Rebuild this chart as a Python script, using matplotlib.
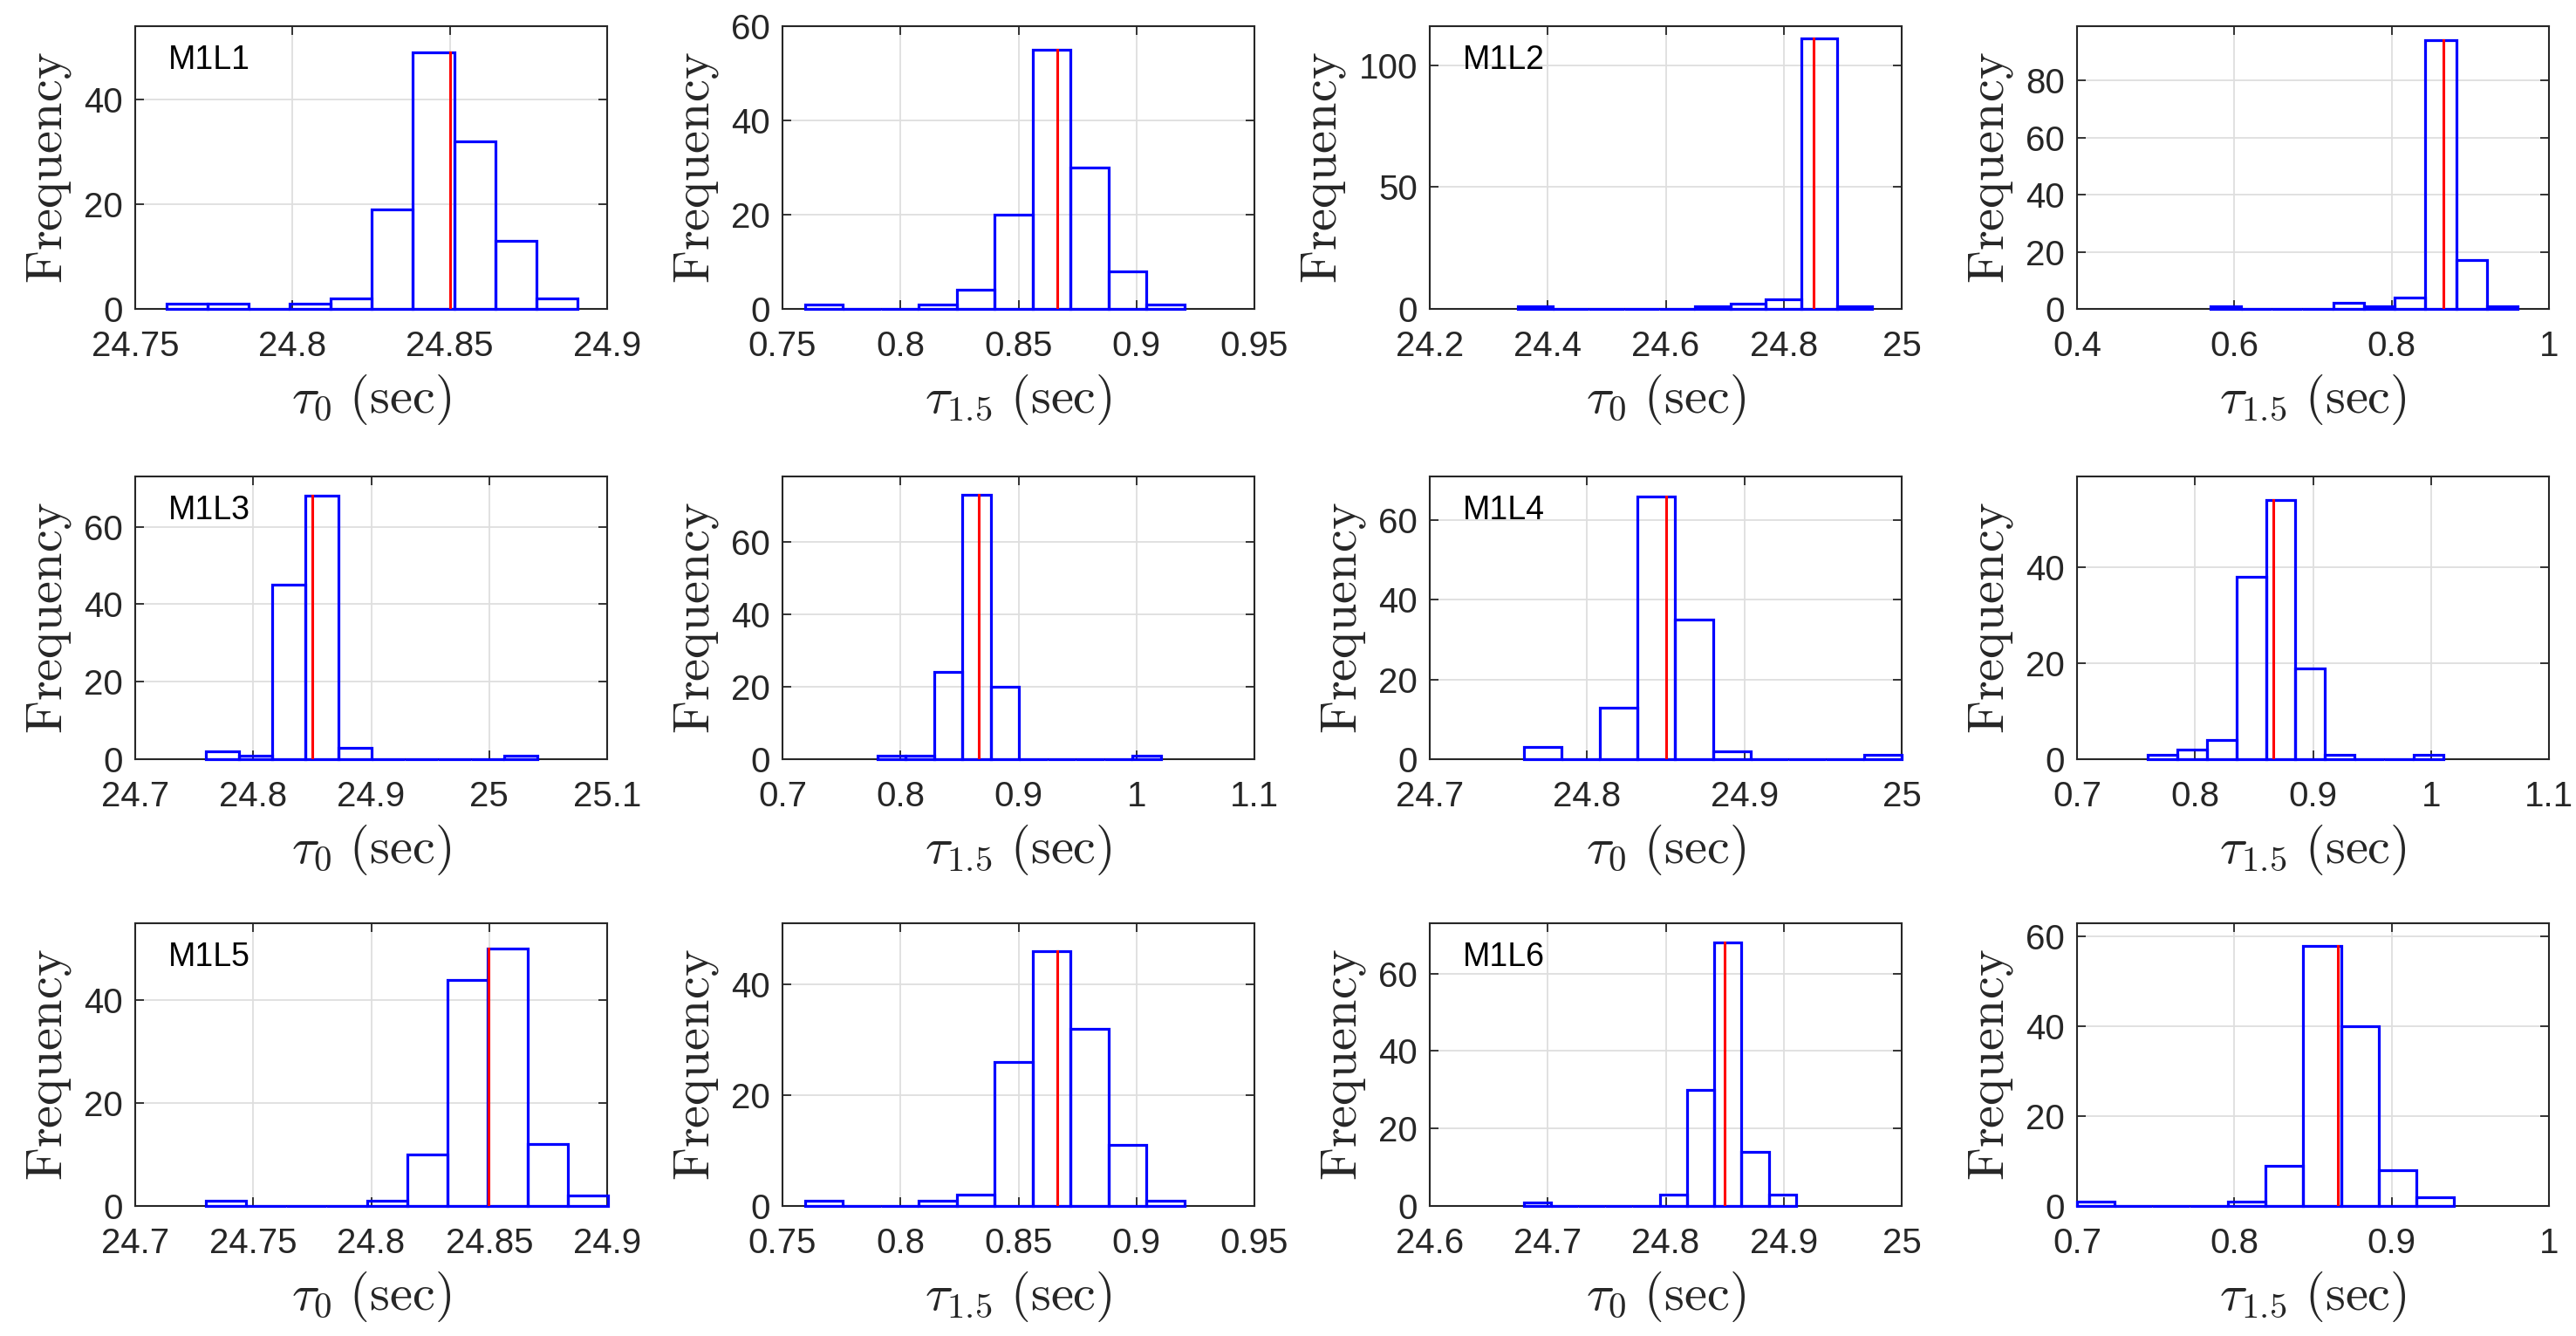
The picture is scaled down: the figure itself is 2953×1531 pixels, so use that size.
import matplotlib
matplotlib.use("Agg")
import numpy as np
import matplotlib.pyplot as plt
from matplotlib.ticker import MultipleLocator, FormatStrFormatter

plt.rcParams['font.family'] = ['Liberation Sans', 'DejaVu Sans']
plt.rcParams['mathtext.fontset'] = 'cm'

# histograms, row by row (tau_0 / tau_1.5 for lines M1L1..M1L6)
bin_starts = [24.760, 0.7596, 24.349, 0.5693,
              24.760, 0.7806, 24.760, 0.7597,
              24.730, 0.7596, 24.6795, 0.6998]
bin_widths = [0.01305, 0.01608, 0.0601, 0.0391,
              0.0281, 0.0240, 0.0240, 0.0251,
              0.01704, 0.01608, 0.0231, 0.0240]
counts = [
    [1, 1, 0, 1, 2, 19, 49, 32, 13, 2],
    [1, 0, 0, 1, 4, 20, 55, 30, 8, 1],
    [1, 0, 0, 0, 0, 1, 2, 4, 111, 1],
    [1, 0, 0, 0, 2, 1, 4, 94, 17, 1],
    [2, 1, 45, 68, 3, 0, 0, 0, 0, 1],
    [1, 1, 24, 73, 20, 0, 0, 0, 0, 1],
    [3, 0, 13, 66, 35, 2, 0, 0, 0, 1],
    [1, 2, 4, 38, 54, 19, 1, 0, 0, 1],
    [1, 0, 0, 0, 1, 10, 44, 50, 12, 2],
    [1, 0, 0, 1, 2, 26, 46, 32, 11, 1],
    [1, 0, 0, 0, 0, 3, 30, 68, 14, 3],
    [1, 0, 0, 0, 1, 9, 58, 40, 8, 2],
]
means = [24.8502, 0.8663, 24.851, 0.8656,
         24.850, 0.8667, 24.850, 0.8663,
         24.8496, 0.8663, 24.8497, 0.8659]

x_limits = [(24.75, 24.9), (0.75, 0.95), (24.2, 25.0), (0.4, 1.0),
            (24.7, 25.1), (0.7, 1.1), (24.7, 25.0), (0.7, 1.1),
            (24.7, 24.9), (0.75, 0.95), (24.6, 25.0), (0.7, 1.0)]
x_steps = [0.05, 0.05, 0.2, 0.2, 0.1, 0.1, 0.1, 0.1, 0.05, 0.05, 0.1, 0.1]
y_tops = [54, 60, 116, 99, 73, 78, 71, 59, 55, 51, 73, 63]
y_steps = [20, 20, 50, 20, 20, 20, 20, 20, 20, 20, 20, 20]
panel_names = ['M1L1', '', 'M1L2', '', 'M1L3', '', 'M1L4', '', 'M1L5', '', 'M1L6', '']
x_names = [r'$\tau_0\ (\mathrm{sec})$', r'$\tau_{1.5}\ (\mathrm{sec})$']

W, H = 2953, 1531
fig = plt.figure(figsize=(W / 100, H / 100), dpi=100)

col_left = [155, 897, 1639, 2381]
row_top = [30, 546, 1058]
ax_w, ax_h = 541, 324

dark = '#262626'

for i in range(12):
    r, c = divmod(i, 4)
    ax = fig.add_axes([col_left[c] / W, 1 - (row_top[r] + ax_h) / H, ax_w / W, ax_h / H])
    n = len(counts[i])
    edges = bin_starts[i] + bin_widths[i] * np.arange(n + 1)
    ax.bar(edges[:-1], counts[i], width=bin_widths[i], align='edge', fill=False,
           edgecolor='b', linewidth=2.3, clip_on=False, zorder=3)
    ax.plot([means[i], means[i]], [0, max(counts[i])], color='r', lw=2.2, zorder=4)

    ax.set_xlim(*x_limits[i])
    ax.set_ylim(0, y_tops[i])
    ax.xaxis.set_major_locator(MultipleLocator(x_steps[i]))
    ax.yaxis.set_major_locator(MultipleLocator(y_steps[i]))
    ax.xaxis.set_major_formatter(FormatStrFormatter('%g'))
    ax.yaxis.set_major_formatter(FormatStrFormatter('%g'))
    ax.grid(True, color='#dedede', lw=1.3)
    ax.set_axisbelow(True)
    for s in ax.spines.values():
        s.set_color(dark)
        s.set_linewidth(1.5)
    ax.tick_params(direction='in', top=True, right=True, length=7, width=1.3,
                   labelsize=29, colors=dark, labelcolor=dark)
    ax.tick_params(axis='x', pad=17)
    ax.tick_params(axis='y', pad=10)

    ax.set_ylabel(r'$\mathrm{Frequency}$', fontsize=42, color=dark, labelpad=9)
    ax.set_xlabel(x_names[c % 2], fontsize=42, color=dark, va='top')
    ax.xaxis.set_label_coords(0.5, -0.225)

    if panel_names[i]:
        ax.text(0.07, 0.88, panel_names[i], transform=ax.transAxes,
                fontsize=27, va='center', ha='left', color='black')

fig.savefig('out.png', dpi=100)
